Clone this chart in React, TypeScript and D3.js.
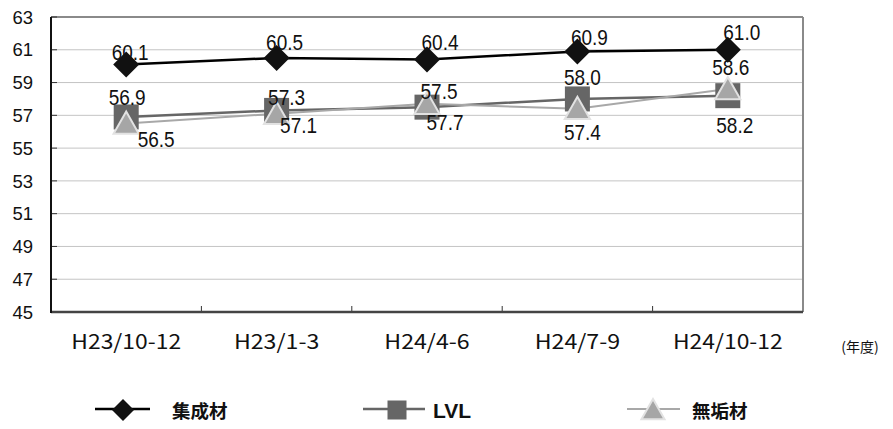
import React from "react";
import * as d3 from "d3";

const categories = ["H23/10-12", "H23/1-3", "H24/4-6", "H24/7-9", "H24/10-12"];
const seriesNames = ["集成材", "LVL", "無垢材"];
const shuseizai = [60.1, 60.5, 60.4, 60.9, 61.0];
const lvl = [56.9, 57.3, 57.5, 58.0, 58.2];
const muku = [56.5, 57.1, 57.7, 57.4, 58.6];
const yTicks = [45, 47, 49, 51, 53, 55, 57, 59, 61, 63];
const unitLabel = "(年度)";

// label offsets (dx from point center, dy baseline from point y)
const labelOffsets = [
  [[4, -4.5], [8, -8], [13, -9.6], [12, -6.4], [14, -10]],
  [[1, -12], [10, -5.4], [12, -8], [5, -14], [7, 37]],
  [[30, 23.5], [22, 19], [18, 26], [5, 31], [3, -14]],
];

const W = 893, H = 429;
const L = 51, R = 803, T = 17, B = 312;

export default function App() {
  const x = d3.scaleBand<string>().domain(categories).range([L, R]);
  const y = d3.scaleLinear().domain([45, 63]).range([B, T]);
  const cx = (c: string) => (x(c) as number) + x.bandwidth() / 2;
  const line = d3.line<number>().x((_, i) => cx(categories[i])).y((v) => y(v));

  const series = [
    { name: seriesNames[0], data: shuseizai, color: "#000", width: 2.5, marker: "diamond" },
    { name: seriesNames[1], data: lvl, color: "#666", width: 2.5, marker: "square" },
    { name: seriesNames[2], data: muku, color: "#a8a8a8", width: 2, marker: "triangle" },
  ];

  const marker = (type: string, px: number, py: number, s: number, key: any) => {
    if (type === "diamond") {
      return <path key={key} d={`M${px},${py - s}L${px + s},${py}L${px},${py + s}L${px - s},${py}Z`} fill="#111" />;
    }
    if (type === "square") {
      return <rect key={key} x={px - s} y={py - s} width={2 * s} height={2 * s} fill="#666" />;
    }
    return (
      <path key={key} d={`M${px},${py - s}L${px + s * 1.05},${py + s * 0.85}L${px - s * 1.05},${py + s * 0.85}Z`}
        fill="#a6a6a6" stroke="#e2e2e2" strokeWidth={2} strokeLinejoin="miter" />
    );
  };

  const boundaries = categories.slice(1).map((c) => x(c) as number);
  const legendItems = [
    { lx: 95, lw: 55, mx: 123, tx: 172, font: "'Noto Sans CJK JP'", fs: 18.5 },
    { lx: 363, lw: 62, mx: 397, tx: 433, font: "'Liberation Sans', Arial", fs: 21 },
    { lx: 627, lw: 53, mx: 653, tx: 692, font: "'Noto Sans CJK JP'", fs: 18.5 },
  ];
  const legendSizes = [11, 9.5, 11];

  return (
    <svg width={W} height={H} style={{ position: "absolute", left: 0, top: 0, background: "#fff" }}>
      <rect x={0} y={0} width={W} height={H} fill="#fff" />
      {/* gridlines */}
      {yTicks.filter((t) => t > 45 && t < 63).map((t) => (
        <line key={t} x1={L} x2={R} y1={y(t)} y2={y(t)} stroke="#c4c4c4" strokeWidth={1} />
      ))}
      {/* border */}
      <line x1={L} x2={R} y1={T} y2={T} stroke="#8a8a8a" strokeWidth={2} />
      <line x1={R} x2={R} y1={T} y2={B} stroke="#8a8a8a" strokeWidth={2} />
      {/* y ticks */}
      {yTicks.map((t) => (
        <line key={"yt" + t} x1={L} x2={L + 6} y1={y(t)} y2={y(t)} stroke="#333" strokeWidth={1} />
      ))}
      {/* x ticks */}
      {boundaries.map((b, i) => (
        <line key={"xt" + i} x1={b} x2={b} y1={B} y2={B - 6} stroke="#333" strokeWidth={1} />
      ))}
      <line x1={L} x2={R} y1={B} y2={B} stroke="#444" strokeWidth={2.5} />
      <line x1={L} x2={L} y1={T} y2={B + 1} stroke="#111" strokeWidth={2} />
      {/* y labels */}
      {yTicks.map((t) => (
        <text key={"yl" + t} x={33} y={y(t)} dy="0.36em" textAnchor="end"
          fontFamily="'Liberation Sans', Arial" fontSize={18.5} fill="#111">{t}</text>
      ))}
      {/* x labels */}
      {categories.map((c) => (
        <text key={"xl" + c} x={cx(c)} y={348.5} textAnchor="middle" fontFamily="'Noto Sans CJK JP'"
          fontSize={20.5} fill="#111" textLength={c.length * 12.2} lengthAdjust="spacingAndGlyphs">{c}</text>
      ))}
      <text x={860} y={352} textAnchor="middle" fontFamily="'Noto Sans CJK JP'" fontSize={14} fill="#111">{unitLabel}</text>
      {/* lines */}
      {series.map((s) => (
        <path key={"ln" + s.name} d={line(s.data) || ""} fill="none" stroke={s.color} strokeWidth={s.width} />
      ))}
      {/* markers */}
      {series.map((s, si) =>
        s.data.map((v, i) => marker(s.marker, cx(categories[i]), y(v), [13, 12.5, 12][si], s.name + i))
      )}
      {/* data labels */}
      {series.map((s, si) =>
        s.data.map((v, i) => (
          <text key={"dl" + s.name + i} x={cx(categories[i]) + labelOffsets[si][i][0]}
            y={y(v) + labelOffsets[si][i][1]} textAnchor="middle"
            fontFamily="'Liberation Sans', Arial" fontSize={22} fill="#111"
            textLength={37} lengthAdjust="spacingAndGlyphs">{v.toFixed(1)}</text>
        ))
      )}
      {/* legend */}
      {series.map((s, si) => {
        const it = legendItems[si];
        return (
          <g key={"lg" + si}>
            <line x1={it.lx} x2={it.lx + it.lw} y1={409} y2={409} stroke={s.color} strokeWidth={s.width} />
            {marker(s.marker, it.mx, 410, legendSizes[si], "lm" + si)}
            <text x={it.tx} y={417.5} fontFamily={it.font} fontWeight="bold" fontSize={it.fs} fill="#111">{s.name}</text>
          </g>
        );
      })}
    </svg>
  );
}
